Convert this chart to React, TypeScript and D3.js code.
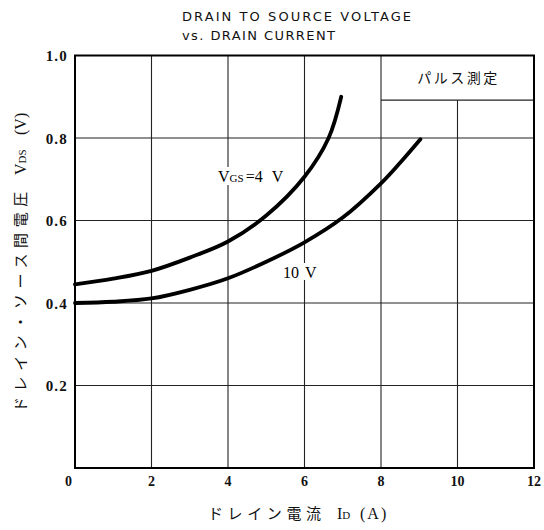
import React from "react";
import * as d3 from "d3";

// Drain current (A) vs. drain-to-source voltage (V) for each gate bias
const currentVgs4 = [0, 1, 2, 3, 4, 5, 6, 6.63, 6.96];
const vdsVgs4 = [0.445, 0.459, 0.478, 0.51, 0.549, 0.612, 0.706, 0.8, 0.9];

const currentVgs10 = [0, 1, 2, 3, 4, 5, 6, 7, 8, 8.5, 9.03];
const vdsVgs10 = [0.4, 0.403, 0.411, 0.432, 0.46, 0.5, 0.547, 0.607, 0.69, 0.74, 0.797];

const xTicks = [0, 2, 4, 6, 8, 10, 12];
const yTicks = [0.2, 0.4, 0.6, 0.8, 1.0];
const xGrid = [2, 4, 6, 8, 10];
const yGrid = [0.2, 0.4, 0.6, 0.8];

const titleLines = ["DRAIN TO SOURCE VOLTAGE", "vs. DRAIN CURRENT"];
const noteText = "パルス測定";
const noteBoxFrom = 8;
const noteBoxBottom = 0.892;

const W = 544;
const H = 530;
const left = 75;
const right = 534;
const top = 55.5;
const bottom = 468;

const serif = "'Liberation Serif', 'DejaVu Serif', serif";
const titleFont = "'DejaVu Sans', 'Liberation Sans', sans-serif";
const jp = "'Noto Sans CJK JP', sans-serif";

export default function App() {
  const x = d3.scaleLinear().domain([0, 12]).range([left, right]);
  const y = d3.scaleLinear().domain([0, 1]).range([bottom, top]);

  const line = d3
    .line<[number, number]>()
    .x((d) => x(d[0]))
    .y((d) => y(d[1]))
    .curve(d3.curveCatmullRom.alpha(0.5));

  const path4 = line(currentVgs4.map((c, i) => [c, vdsVgs4[i]]));
  const path10 = line(currentVgs10.map((c, i) => [c, vdsVgs10[i]]));

  const gridColor = "#222";

  return (
    <svg
      width={W}
      height={H}
      viewBox={`0 0 ${W} ${H}`}
      style={{ position: "absolute", left: 0, top: 0, background: "#fff" }}
    >
      <rect x={0} y={0} width={W} height={H} fill="#fff" />

      {/* title */}
      <text
        x={182}
        y={21}
        fontFamily={titleFont}
        fontSize={13}
        textLength={229}
        lengthAdjust="spacing"
        fill="#111"
      >
        {titleLines[0]}
      </text>
      <text
        x={182}
        y={39.5}
        fontFamily={titleFont}
        fontSize={13}
        textLength={153}
        lengthAdjust="spacing"
        fill="#111"
      >
        {titleLines[1]}
      </text>

      {/* grid */}
      {xGrid.map((v) => (
        <line
          key={"gx" + v}
          x1={x(v)}
          x2={x(v)}
          y1={v > noteBoxFrom ? y(noteBoxBottom) : top}
          y2={bottom}
          stroke={gridColor}
          strokeWidth={1.1}
        />
      ))}
      {yGrid.map((v) => (
        <line
          key={"gy" + v}
          x1={left}
          x2={right}
          y1={y(v)}
          y2={y(v)}
          stroke={gridColor}
          strokeWidth={1.1}
        />
      ))}

      {/* measurement note box */}
      <line
        x1={x(noteBoxFrom)}
        x2={right}
        y1={y(noteBoxBottom)}
        y2={y(noteBoxBottom)}
        stroke={gridColor}
        strokeWidth={1.2}
      />
      <text
        x={(x(noteBoxFrom) + right) / 2 + 1}
        y={83}
        textAnchor="middle"
        fontFamily={jp}
        fontSize={14}
        letterSpacing={2.5}
        fill="#111"
      >
        {noteText}
      </text>

      {/* frame */}
      <rect
        x={left}
        y={top}
        width={right - left}
        height={bottom - top}
        fill="none"
        stroke="#000"
        strokeWidth={2}
      />

      {/* curve labels */}
      <rect x={216} y={167} width={80} height={18} fill="#fff" />
      <text x={218} y={182} fontFamily={serif} fontSize={16} fill="#000">
        V
        <tspan fontSize={11}>GS</tspan>
        <tspan dx={2}>=4</tspan>
        <tspan dx={9}>V</tspan>
      </text>
      <rect x={282} y={263} width={38} height={17} fill="#fff" />
      <text x={283} y={277.5} fontFamily={serif} fontSize={16} fill="#000">
        10
        <tspan dx={6}>V</tspan>
      </text>

      {/* curves */}
      <path d={path4 ?? ""} fill="none" stroke="#000" strokeWidth={3.8} strokeLinecap="round" />
      <path d={path10 ?? ""} fill="none" stroke="#000" strokeWidth={3.8} strokeLinecap="round" />

      {/* y tick labels */}
      {yTicks.map((v) => (
        <text
          key={"ty" + v}
          x={68}
          y={y(v) + 5.5}
          textAnchor="end"
          fontFamily={serif}
          fontSize={15}
          fontWeight="bold"
          letterSpacing={1.2}
          fill="#111"
        >
          {v.toFixed(1)}
        </text>
      ))}

      {/* x tick labels */}
      {xTicks.map((v) => (
        <text
          key={"tx" + v}
          x={v === 0 ? 68.5 : x(v)}
          y={486}
          textAnchor="middle"
          fontFamily={serif}
          fontSize={14}
          fontWeight="bold"
          fill="#111"
        >
          {v}
        </text>
      ))}

      {/* x axis title */}
      <text x={208} y={519} fontFamily={jp} fontSize={15} letterSpacing={4.6} fill="#111">
        ドレイン電流
      </text>
      <text x={337} y={519} fontFamily={serif} fontSize={16} fill="#111">
        I<tspan fontSize={11}>D</tspan>
        <tspan x={360}>(</tspan>
        <tspan dx={2}>A</tspan>
        <tspan dx={2}>)</tspan>
      </text>

      {/* y axis title */}
      <text transform="translate(26,412) rotate(-90)" fill="#111">
        <tspan x={0} fontFamily={jp} fontSize={15} letterSpacing={5.6}>
          ドレイン・ソース間電圧
        </tspan>
        <tspan x={237} fontFamily={serif} fontSize={16}>
          V
        </tspan>
        <tspan fontFamily={serif} fontSize={11}>
          DS
        </tspan>
        <tspan x={277} fontFamily={serif} fontSize={16}>
          (V)
        </tspan>
      </text>
    </svg>
  );
}
